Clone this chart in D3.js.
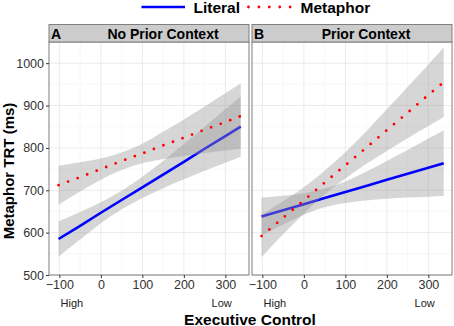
<!DOCTYPE html>
<html>
<head>
<meta charset="utf-8">
<script src="https://cdn.jsdelivr.net/npm/d3@7/dist/d3.min.js"></script>
<style>
  body { margin: 0; background: #fff; }
  svg { display: block; font-family: "Liberation Sans", Arial, sans-serif; }
</style>
</head>
<body>
<div class="chart"></div>
<script>
const ecX = [-102, -50, 0, 50, 100, 150, 200, 250, 300, 337];

// A: No Prior Context
const litFitA = [585, 616, 647, 677, 707, 737, 767, 798, 828, 850];
const litLoA  = [543, 584, 622, 655, 682, 705, 726, 746, 765, 779];
const litHiA  = [627, 649, 672, 699, 732, 769, 809, 850, 891, 921];
const metFitA = [712, 731, 750, 769, 787, 806, 824, 843, 861, 875];
const metLoA  = [666, 697, 725, 748, 764, 774, 781, 788, 794, 798];
const metHiA  = [758, 766, 775, 789, 810, 838, 867, 898, 929, 952];

// B: Prior Context
const litFitB = [638, 653, 667, 682, 696, 710, 725, 739, 753, 764];
const litLoB  = [593, 619, 642, 660, 670, 676, 680, 683, 685, 687];
const litHiB  = [683, 687, 693, 704, 721, 744, 769, 795, 822, 841];
const metFitB = [592, 635, 676, 718, 759, 800, 842, 883, 925, 955];
const metLoB  = [542, 596, 645, 690, 728, 762, 793, 823, 852, 873];
const metHiB  = [642, 674, 707, 746, 790, 839, 891, 944, 997, 1037];

const xTicks = [-100, 0, 100, 200, 300];
const xMinor = [-50, 50, 150, 250];
const yTicks = [500, 600, 700, 800, 900, 1000];
const yMinor = [550, 650, 750, 850, 950, 1050];
const endLabels = [{x: -70, text: "High"}, {x: 291, text: "Low"}];

const panels = [
  {tag: "A", title: "No Prior Context", left: 49,
   series: [{fit: litFitA, lo: litLoA, hi: litHiA, type: "Literal"},
            {fit: metFitA, lo: metLoA, hi: metHiA, type: "Metaphor"}]},
  {tag: "B", title: "Prior Context", left: 252,
   series: [{fit: litFitB, lo: litLoB, hi: litHiB, type: "Literal"},
            {fit: metFitB, lo: metLoB, hi: metHiB, type: "Metaphor"}]}
];

const width = 454, height = 326;
const panelW = 200, panelTop = 42, panelBottom = 275, stripTop = 24.5;

const svg = d3.select(".chart")
  .append("svg")
    .attr("width", width)
    .attr("height", height);

const x = d3.scaleLinear().domain([-125, 357]).range([0, panelW]);
const y = d3.scaleLinear().domain([500, 1050]).range([panelBottom, panelTop]);

const band = d3.area()
  .x((d, i) => x(ecX[i]))
  .y0(d => y(d[0]))
  .y1(d => y(d[1]))
  .curve(d3.curveMonotoneX);

const line = d3.line()
  .x((d, i) => x(ecX[i]))
  .y(d => y(d));

panels.forEach((p, k) => {
  const g = svg.append("g").attr("transform", `translate(${p.left},0)`);

  g.append("clipPath").attr("id", `clip${k}`)
    .append("rect")
      .attr("x", 0).attr("y", panelTop)
      .attr("width", panelW).attr("height", panelBottom - panelTop);

  // grid
  g.append("g").selectAll("line").data(xMinor).join("line")
    .attr("x1", d => x(d)).attr("x2", d => x(d))
    .attr("y1", panelTop).attr("y2", panelBottom)
    .attr("stroke", "#f3f3f3").attr("stroke-width", 0.6);
  g.append("g").selectAll("line").data(yMinor).join("line")
    .attr("x1", 0).attr("x2", panelW)
    .attr("y1", d => y(d)).attr("y2", d => y(d))
    .attr("stroke", "#f3f3f3").attr("stroke-width", 0.6);
  g.append("g").selectAll("line").data(xTicks).join("line")
    .attr("x1", d => x(d)).attr("x2", d => x(d))
    .attr("y1", panelTop).attr("y2", panelBottom)
    .attr("stroke", "#ebebeb").attr("stroke-width", 1);
  g.append("g").selectAll("line").data(yTicks).join("line")
    .attr("x1", 0).attr("x2", panelW)
    .attr("y1", d => y(d)).attr("y2", d => y(d))
    .attr("stroke", "#ebebeb").attr("stroke-width", 1);

  const plot = g.append("g").attr("clip-path", `url(#clip${k})`);
  p.series.forEach(s => {
    plot.append("path")
      .attr("d", band(s.lo.map((v, i) => [v, s.hi[i]])))
      .attr("fill", "#999999")
      .attr("fill-opacity", 0.4);
    const l = plot.append("path")
      .attr("d", line(s.fit))
      .attr("fill", "none");
    if (s.type === "Literal") {
      l.attr("stroke", "#0000ff").attr("stroke-width", 2.6);
    } else {
      l.attr("stroke", "#ff0000").attr("stroke-width", 2.8)
        .attr("stroke-linecap", "round")
        .attr("stroke-dasharray", "0,10.2");
    }
  });

  // panel border
  g.append("rect")
    .attr("x", 0).attr("y", panelTop)
    .attr("width", panelW).attr("height", panelBottom - panelTop)
    .attr("fill", "none").attr("stroke", "#7f7f7f").attr("stroke-width", 1);

  // strip
  g.append("rect")
    .attr("x", 0).attr("y", stripTop)
    .attr("width", panelW).attr("height", panelTop - stripTop)
    .attr("fill", "#cccccc").attr("stroke", "#7f7f7f").attr("stroke-width", 1);
  g.append("text")
    .attr("x", 2).attr("y", 39.3)
    .attr("font-size", 14).attr("font-weight", "bold")
    .text(p.tag);
  g.append("text")
    .attr("x", panelW / 2 + 14).attr("y", 39.3)
    .attr("text-anchor", "middle")
    .attr("font-size", 14).attr("font-weight", "bold")
    .text(p.title);

  // x axis
  g.append("g")
    .attr("transform", `translate(0,${panelBottom})`)
    .call(d3.axisBottom(x).tickValues(xTicks).tickSize(3).tickPadding(2))
    .call(a => a.select(".domain").remove())
    .call(a => a.selectAll("line").attr("stroke", "#333"))
    .call(a => a.selectAll("text")
      .attr("font-size", 12.5).attr("fill", "#333")
      .attr("font-family", "Liberation Sans, Arial, sans-serif"));

  g.append("g").selectAll("text").data(endLabels).join("text")
    .attr("x", d => x(d.x)).attr("y", 306.5)
    .attr("text-anchor", "middle")
    .attr("font-size", 11).attr("fill", "#222")
    .text(d => d.text);

  if (k === 0) {
    g.append("g")
      .call(d3.axisLeft(y).tickValues(yTicks).tickFormat(d3.format("d"))
        .tickSize(3).tickPadding(2))
      .call(a => a.select(".domain").remove())
      .call(a => a.selectAll("line").attr("stroke", "#333"))
      .call(a => a.selectAll("text")
        .attr("font-size", 12.5).attr("fill", "#333")
        .attr("font-family", "Liberation Sans, Arial, sans-serif"));
  }
});

// axis titles
svg.append("text")
  .attr("x", 250).attr("y", 324.5)
  .attr("text-anchor", "middle")
  .attr("font-size", 15.5).attr("font-weight", "bold")
  .text("Executive Control");

svg.append("text")
  .attr("transform", "translate(13.5,171) rotate(-90)")
  .attr("text-anchor", "middle")
  .attr("font-size", 15).attr("font-weight", "bold")
  .text("Metaphor TRT (ms)");

// legend
const legend = svg.append("g");
legend.append("line")
  .attr("x1", 141.5).attr("x2", 185).attr("y1", 7).attr("y2", 7)
  .attr("stroke", "#0000ff").attr("stroke-width", 2.6);
legend.append("text")
  .attr("x", 193.5).attr("y", 13.3)
  .attr("font-size", 15.5).attr("font-weight", "bold")
  .text("Literal");
legend.append("line")
  .attr("x1", 248.5).attr("x2", 291).attr("y1", 7).attr("y2", 7)
  .attr("stroke", "#ff0000").attr("stroke-width", 2.8)
  .attr("stroke-linecap", "round")
  .attr("stroke-dasharray", "0,10.4");
legend.append("text")
  .attr("x", 300.5).attr("y", 13.3)
  .attr("font-size", 15.5).attr("font-weight", "bold")
  .text("Metaphor");
</script>
</body>
</html>
